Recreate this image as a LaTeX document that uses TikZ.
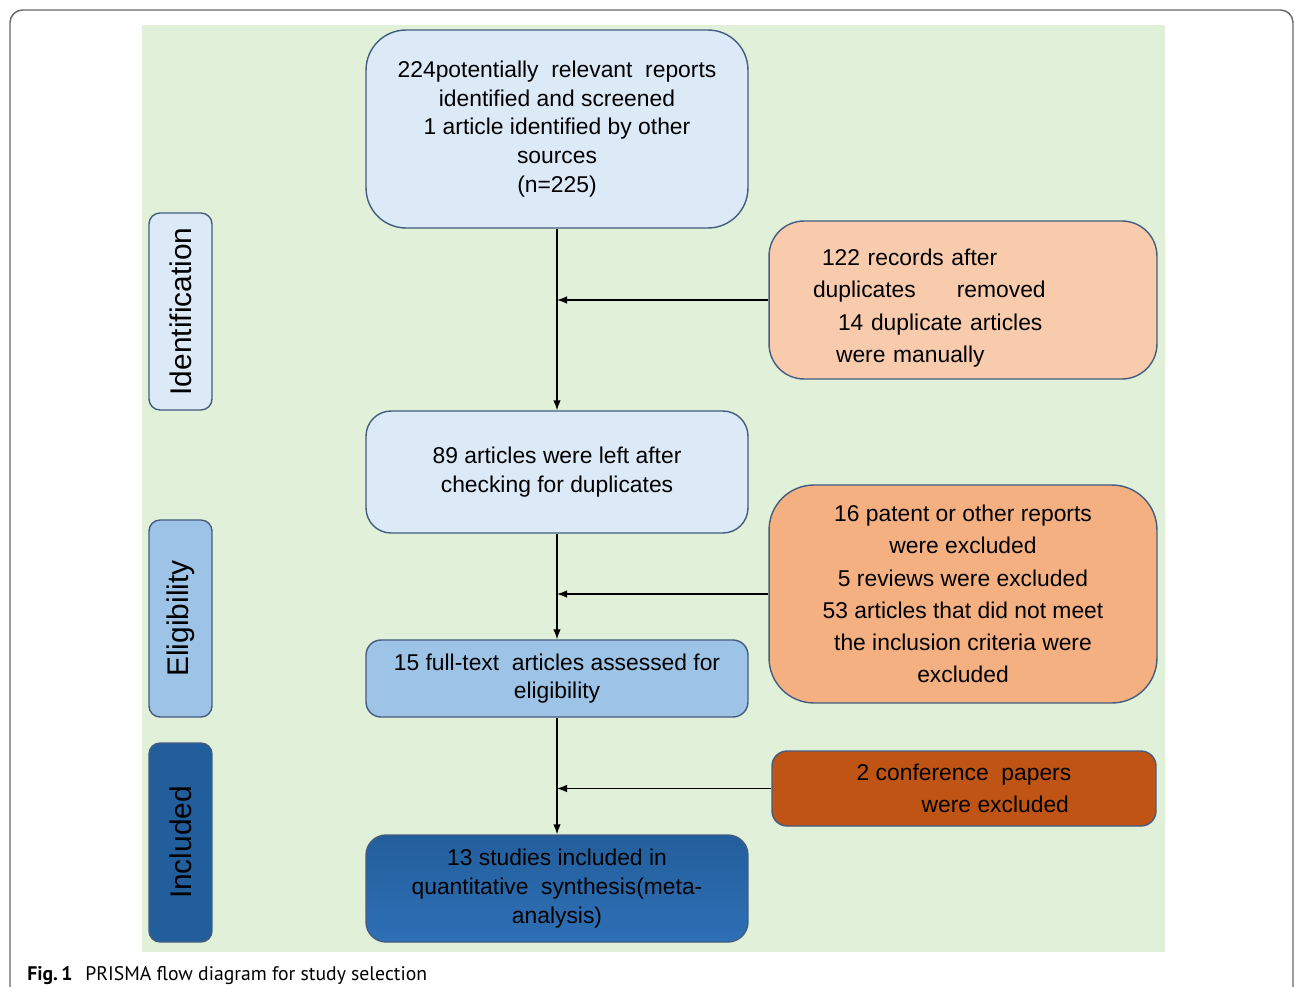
\documentclass[tikz,border=0pt]{standalone}
\usepackage{xcolor}
\usepackage{fontspec}
\setmainfont{Liberation Sans}
\newfontfamily\capfont{PT Sans}
\usepackage{tikz}
\usetikzlibrary{shapes,arrows}
\usetikzlibrary{arrows.meta}

\definecolor{bggreen}{RGB}{225,240,216}
\definecolor{edgeblue}{RGB}{68,92,128}
\definecolor{paleblue}{RGB}{220,233,247}
\definecolor{midblue}{RGB}{157,195,230}
\definecolor{deepblue}{RGB}{35,94,156}
\definecolor{brightblue}{RGB}{46,112,182}
\definecolor{lightpeach}{RGB}{248,203,173}
\definecolor{peach}{RGB}{245,176,130}
\definecolor{rust}{RGB}{192,84,20}

\begin{document}
\begin{tikzpicture}[x=0.02cm, y=-0.02cm]
        \tikzstyle{block} = [rectangle, draw=edgeblue, line width=0.8pt, inner sep=0pt, align=center, font=\fontsize{13}{16.4}\selectfont]
        \tikzstyle{sidebox} = [rectangle, draw=edgeblue, line width=0.8pt, rounded corners=0.22cm, rotate=90, inner sep=0pt, minimum height=1.26cm, font=\fontsize{17}{20}\selectfont]
        \tikzstyle{line} = [draw, line width=0.7pt, -{Latex[length=0.2cm, width=0.15cm]}]

        \useasboundingbox (0,0) rectangle (1295,987);
        \draw [gray!80!black, line width=0.8pt, rounded corners=0.25cm] (10,987) -- (10,10) -- (1293,10) -- (1293,987);
        \fill [bggreen] (142,25) rectangle (1165,952);

        % stages
        \node [sidebox, fill=paleblue, minimum width=3.94cm] (identification) at (180.5,311.5) {Identification};
        \node [sidebox, fill=midblue, minimum width=3.94cm] (eligibility) at (180.5,618.5) {Eligibility};
        \node [sidebox, fill=deepblue, minimum width=3.98cm] (included) at (180.5,842.5) {Included};

        % main column
        \node [block, fill=paleblue, rounded corners=0.8cm, minimum width=7.64cm, minimum height=3.96cm] (screened) at (557,129)
            {224potentially\ \ relevant\ \ reports\\ identified and screened\\ 1 article identified by other\\ sources\\ (n=225)};
        \node [block, fill=paleblue, rounded corners=0.5cm, minimum width=7.64cm, minimum height=2.44cm] (leftover) at (557,472)
            {89 articles were left after\\ checking for duplicates};
        \node [block, fill=midblue, rounded corners=0.3cm, minimum width=7.64cm, minimum height=1.54cm] (fulltext) at (557,678.5)
            {15 full-text\ \ articles assessed for\\ eligibility\vphantom{p}};
        \node [block, top color=deepblue, bottom color=brightblue, rounded corners=0.4cm, minimum width=7.64cm, minimum height=2.14cm] (synthesis) at (557,888.5)
            {13 studies included\ in\\ quantitative\ \ synthesis(meta-\\ analysis)};

        % exclusions
        \node [block, fill=lightpeach, rounded corners=0.7cm, minimum width=7.76cm, minimum height=3.16cm, text width=6cm, align=left, font=\fontsize{13}{18.4}\selectfont] (duplicates) at (963,300)
            {\rule{0pt}{18.5pt}\hspace*{0.18cm}122 records after\\ duplicates\hspace{0.82cm}removed\\ \hspace*{0.5cm}14 duplicate articles\\ \hspace*{0.46cm}were manually};
        \node [block, fill=peach, rounded corners=0.9cm, minimum width=7.76cm, minimum height=4.36cm, font=\fontsize{13}{18.4}\selectfont] (excluded) at (963,594)
            {16 patent or other reports\\ were excluded\\ 5 reviews were excluded\\ 53 articles that did not meet\\ the inclusion criteria were\\ excluded};
        \node [block, fill=rust, rounded corners=0.3cm, minimum width=7.68cm, minimum height=1.5cm, align=left, font=\fontsize{13}{18.4}\selectfont] (conference) at (964,788.5)
            {2 conference\ \ papers\\ \hspace*{1.3cm}were excluded};

        \path [line] (screened) -- (leftover);
        \path [line] (duplicates.west) -- (duplicates.west -| screened.south);
        \path [line] (leftover) -- (fulltext);
        \path [line] (excluded.west) -- (excluded.west -| leftover.south);
        \path [line] (fulltext) -- (synthesis);
        \path [line] (conference.west) -- (conference.west -| fulltext.south);

        \node [anchor=base west, inner sep=0pt, font=\capfont\fontsize{11.2}{14}\selectfont] (caption) at (27,980) {\textbf{Fig.\,1}\hspace{0.26cm}PRISMA flow diagram for study selection};
    \end{tikzpicture}
\end{document}
